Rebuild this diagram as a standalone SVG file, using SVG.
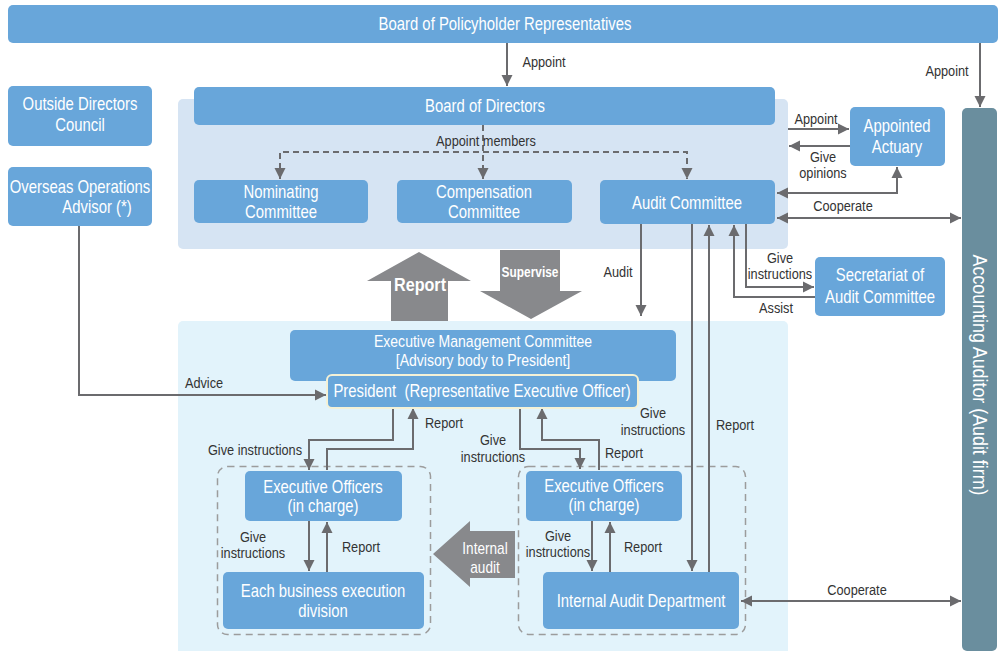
<svg xmlns="http://www.w3.org/2000/svg" width="1001" height="651" viewBox="0 0 1001 651">
<defs>
<style>
.box{fill:#68a6da;}
.bt{font-family:"Liberation Sans",Arial,sans-serif;fill:#fff;font-size:17.5px;text-anchor:middle;}
.lt{font-family:"Liberation Sans",Arial,sans-serif;fill:#333;font-size:15px;text-anchor:middle;}
.ln{stroke:#6b6b6e;stroke-width:2;fill:none;}
.dl{stroke:#6b6b6e;stroke-width:2;fill:none;stroke-dasharray:6 4;}
.grp{stroke:#9c9c9c;stroke-width:1.5;fill:none;stroke-dasharray:7 5;}
.big{fill:#88898c;}
</style>
<marker id="ar" markerUnits="userSpaceOnUse" markerWidth="12" markerHeight="12" viewBox="0 0 12 12" refX="11" refY="6" orient="auto-start-reverse">
<path d="M0,0.5 L11,6 L0,11.5 z" fill="#6b6b6e"/>
</marker>
</defs>
<rect width="1001" height="651" fill="#fff"/>
<!-- panels -->
<rect x="178" y="99" width="610" height="150" rx="5" fill="#d6e4f3"/>
<rect x="178" y="321" width="610" height="335" rx="5" fill="#e2f3fb"/>
<rect class="grp" x="217.5" y="466.5" width="213" height="168" rx="10"/>
<rect class="grp" x="518.5" y="466.5" width="227" height="168" rx="10"/>

<g id="connectors">
<line class="ln" x1="507" y1="43" x2="507" y2="86" marker-end="url(#ar)"/>
<text class="lt" transform="matrix(0.85 0 0 1 544 67)">Appoint</text>
<line class="ln" x1="980" y1="43" x2="980" y2="107" marker-end="url(#ar)"/>
<text class="lt" transform="matrix(0.85 0 0 1 947 76)">Appoint</text>
<polyline class="ln" points="79,226 79,395 326,395" marker-end="url(#ar)"/>
<text class="lt" transform="matrix(0.85 0 0 1 204 388)">Advice</text>
<line class="dl" x1="483" y1="125" x2="483" y2="179" marker-end="url(#ar)"/>
<polyline class="dl" points="280,179 280,152 687,152 687,179" marker-start="url(#ar)" marker-end="url(#ar)"/>
<text class="lt" transform="matrix(0.85 0 0 1 486 146)">Appoint members</text>
<line class="ln" x1="788" y1="129" x2="849" y2="129" marker-end="url(#ar)"/>
<text class="lt" transform="matrix(0.85 0 0 1 816 124)">Appoint</text>
<line class="ln" x1="850" y1="146" x2="789" y2="146" marker-end="url(#ar)"/>
<text class="lt" transform="matrix(0.85 0 0 1 823 162)">Give</text>
<text class="lt" transform="matrix(0.85 0 0 1 823 178)">opinions</text>
<polyline class="ln" points="777,193 897,193 897,167" marker-start="url(#ar)" marker-end="url(#ar)"/>
<line class="ln" x1="777" y1="218" x2="961" y2="218" marker-start="url(#ar)" marker-end="url(#ar)"/>
<text class="lt" transform="matrix(0.85 0 0 1 843 211)">Cooperate</text>
<polyline class="ln" points="746,224 746,287 814,287" marker-end="url(#ar)"/>
<text class="lt" transform="matrix(0.85 0 0 1 780 263)">Give</text>
<text class="lt" transform="matrix(0.85 0 0 1 780 279)">instructions</text>
<polyline class="ln" points="815,297 734,297 734,225" marker-end="url(#ar)"/>
<text class="lt" transform="matrix(0.85 0 0 1 776 313)">Assist</text>
<line class="ln" x1="641" y1="224" x2="641" y2="316" marker-end="url(#ar)"/>
<text class="lt" transform="matrix(0.85 0 0 1 618 277)">Audit</text>
<line class="ln" x1="692" y1="224" x2="692" y2="571" marker-end="url(#ar)"/>
<line class="ln" x1="709" y1="572" x2="709" y2="225" marker-end="url(#ar)"/>
<text class="lt" transform="matrix(0.85 0 0 1 653 418)">Give</text>
<text class="lt" transform="matrix(0.85 0 0 1 653 435)">instructions</text>
<text class="lt" transform="matrix(0.85 0 0 1 735 430)">Report</text>
<polyline class="ln" points="393,408 393,440 309,440 309,470" marker-end="url(#ar)"/>
<polyline class="ln" points="327,470 327,449 413,449 413,408" marker-end="url(#ar)"/>
<text class="lt" transform="matrix(0.85 0 0 1 255 455)">Give instructions</text>
<text class="lt" transform="matrix(0.85 0 0 1 444 428)">Report</text>
<polyline class="ln" points="520,408 520,449 580,449 580,469" marker-end="url(#ar)"/>
<polyline class="ln" points="599,470 599,440 542,440 542,408" marker-end="url(#ar)"/>
<text class="lt" transform="matrix(0.85 0 0 1 493 445)">Give</text>
<text class="lt" transform="matrix(0.85 0 0 1 493 462)">instructions</text>
<text class="lt" transform="matrix(0.85 0 0 1 624 458)">Report</text>
<line class="ln" x1="309" y1="521" x2="309" y2="571" marker-end="url(#ar)"/>
<line class="ln" x1="327" y1="572" x2="327" y2="522" marker-end="url(#ar)"/>
<text class="lt" transform="matrix(0.85 0 0 1 253 542)">Give</text>
<text class="lt" transform="matrix(0.85 0 0 1 253 558)">instructions</text>
<text class="lt" transform="matrix(0.85 0 0 1 361 552)">Report</text>
<line class="ln" x1="592" y1="521" x2="592" y2="571" marker-end="url(#ar)"/>
<line class="ln" x1="610" y1="572" x2="610" y2="522" marker-end="url(#ar)"/>
<text class="lt" transform="matrix(0.85 0 0 1 558 541)">Give</text>
<text class="lt" transform="matrix(0.85 0 0 1 558 557)">instructions</text>
<text class="lt" transform="matrix(0.85 0 0 1 643 552)">Report</text>
<line class="ln" x1="741" y1="601" x2="961" y2="601" marker-start="url(#ar)" marker-end="url(#ar)"/>
<text class="lt" transform="matrix(0.85 0 0 1 857 595)">Cooperate</text>
<!-- big arrows -->
<polygon class="big" points="419,252 471,281 448,281 448,321 391,321 391,281 367,281"/>
<text class="bt" transform="matrix(0.85 0 0 1 420 291)" style="font-weight:bold;font-size:19px">Report</text>
<polygon class="big" points="500,250 560,250 560,291 582,291 531,319 480,291 500,291"/>
<text class="bt" transform="matrix(0.85 0 0 1 530 277)" style="font-weight:bold;font-size:14px">Supervise</text>
<polygon class="big" points="433,554 470,521 470,531 515,531 515,578 470,578 470,587"/>
<text class="bt" transform="matrix(0.85 0 0 1 485 554)" style="font-size:16px">Internal</text>
<text class="bt" transform="matrix(0.85 0 0 1 485 573)" style="font-size:16px">audit</text>
</g>

<g id="board-policyholder"><rect class="box" x="8" y="5" width="990" height="38" rx="5"/><text class="bt" transform="matrix(0.85 0 0 1 505 30)">Board of Policyholder Representatives</text></g>
<g id="accounting-auditor"><rect x="962" y="108" width="35" height="543" rx="5" fill="#6a8e9e"/><text class="bt" transform="translate(980,375) rotate(90) scale(0.85,1)" y="7" style="font-size:21px">Accounting Auditor (Audit firm)</text></g>
<g id="outside-directors"><rect class="box" x="8" y="86" width="144" height="60" rx="5"/><text class="bt" transform="matrix(0.85 0 0 1 80 110)">Outside Directors</text><text class="bt" transform="matrix(0.85 0 0 1 80 131)">Council</text></g>
<g id="overseas-advisor"><rect class="box" x="8" y="167" width="144" height="59" rx="5"/><text class="bt" transform="matrix(0.85 0 0 1 80 193)">Overseas Operations</text><text class="bt" transform="matrix(0.85 0 0 1 97 213)">Advisor (*)</text></g>
<g id="board-of-directors"><rect class="box" x="194" y="87" width="581" height="38" rx="5"/><text class="bt" transform="matrix(0.85 0 0 1 485 112)">Board of Directors</text></g>
<g id="nominating"><rect class="box" x="194" y="180" width="174" height="43" rx="5"/><text class="bt" transform="matrix(0.85 0 0 1 281 198)">Nominating</text><text class="bt" transform="matrix(0.85 0 0 1 281 218)">Committee</text></g>
<g id="compensation"><rect class="box" x="397" y="180" width="175" height="43" rx="5"/><text class="bt" transform="matrix(0.85 0 0 1 484 198)">Compensation</text><text class="bt" transform="matrix(0.85 0 0 1 484 218)">Committee</text></g>
<g id="audit-committee"><rect class="box" x="600" y="180" width="175" height="44" rx="5"/><text class="bt" transform="matrix(0.85 0 0 1 687 209)">Audit Committee</text></g>
<g id="appointed-actuary"><rect class="box" x="850" y="107" width="95" height="59" rx="5"/><text class="bt" transform="matrix(0.85 0 0 1 897 132)">Appointed</text><text class="bt" transform="matrix(0.85 0 0 1 897 153)">Actuary</text></g>
<g id="secretariat"><rect class="box" x="815" y="257" width="130" height="59" rx="5"/><text class="bt" transform="matrix(0.85 0 0 1 880 281)">Secretariat of</text><text class="bt" transform="matrix(0.85 0 0 1 880 303)">Audit Committee</text></g>
<g id="exec-mgmt-committee"><rect class="box" x="290" y="330" width="386" height="51" rx="5"/><text class="bt" transform="matrix(0.85 0 0 1 483 347)" style="font-size:16.5px">Executive Management Committee</text><text class="bt" transform="matrix(0.85 0 0 1 483 366)" style="font-size:16.5px">[Advisory body to President]</text></g>
<g id="president"><rect class="box" x="327" y="375" width="311" height="33" rx="5" stroke="#f4f1d6" stroke-width="2"/><text class="bt" transform="matrix(0.85 0 0 1 482 397)" xml:space="preserve">President  (Representative Executive Officer)</text></g>
<g id="exec-officers-left"><rect class="box" x="245" y="471" width="157" height="50" rx="5"/><text class="bt" transform="matrix(0.85 0 0 1 323 493)">Executive Officers</text><text class="bt" transform="matrix(0.85 0 0 1 323 512)">(in charge)</text></g>
<g id="business-division"><rect class="box" x="223" y="572" width="201" height="57" rx="5"/><text class="bt" transform="matrix(0.85 0 0 1 323 597)">Each business execution</text><text class="bt" transform="matrix(0.85 0 0 1 323 617)">division</text></g>
<g id="exec-officers-right"><rect class="box" x="526" y="471" width="156" height="50" rx="5"/><text class="bt" transform="matrix(0.85 0 0 1 604 492)">Executive Officers</text><text class="bt" transform="matrix(0.85 0 0 1 604 511)">(in charge)</text></g>
<g id="internal-audit-dept"><rect class="box" x="543" y="572" width="196" height="57" rx="5"/><text class="bt" transform="matrix(0.85 0 0 1 641 607)">Internal Audit Department</text></g>
</svg>
